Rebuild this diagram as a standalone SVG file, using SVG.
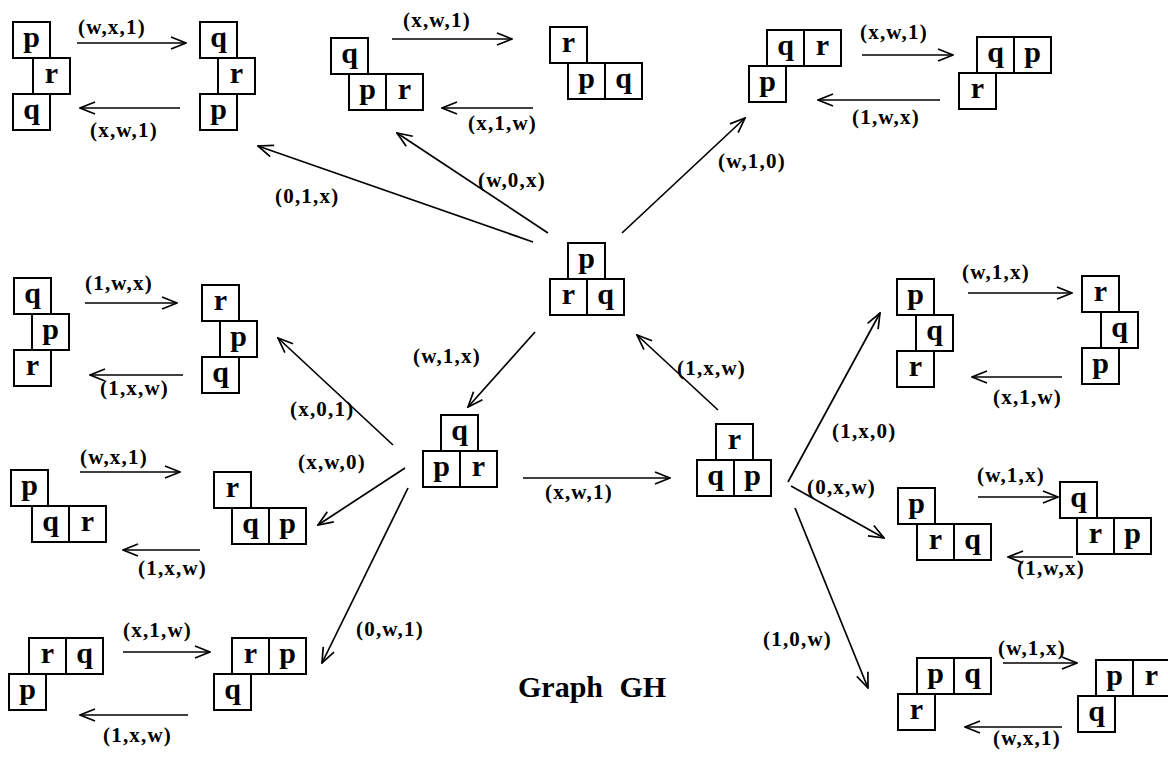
<svg xmlns="http://www.w3.org/2000/svg" width="1168" height="758" viewBox="0 0 1168 758">
  <defs>
    <style>
      .box { fill: #fff; stroke: #000; stroke-width: 2; }
      .ch { font-family: "Liberation Serif", "Times New Roman", serif; font-weight: bold; font-size: 30px; text-anchor: middle; fill: #000; }
      .lbl { font-family: "Liberation Serif", "Times New Roman", serif; font-weight: bold; font-size: 21px; letter-spacing: 1.2px; fill: #000; }
      .title { font-family: "Liberation Serif", "Times New Roman", serif; font-weight: bold; font-size: 30px; word-spacing: 9px; fill: #000; }
      .edge { fill: none; stroke: #000; stroke-width: 1.7; marker-end: url(#ah); }
    </style>
    <marker id="ah" viewBox="0 0 18 14" refX="17" refY="7" markerWidth="18" markerHeight="14" orient="auto" markerUnits="userSpaceOnUse">
      <path d="M2,1 L17,7 L2,13" fill="none" stroke="#000" stroke-width="1.7"/>
    </marker>
  </defs>
  <rect width="1168" height="758" fill="#fff"/>

  <!-- connectors -->
  <g id="connectors">
    <!-- top-left pair -->
    <line class="edge" x1="77" y1="43" x2="186" y2="43"/>
    <line class="edge" x1="180" y1="108" x2="80" y2="108"/>
    <!-- top-middle pair -->
    <line class="edge" x1="392" y1="39" x2="512" y2="39"/>
    <line class="edge" x1="533" y1="108" x2="442" y2="108"/>
    <!-- top-right pair -->
    <line class="edge" x1="862" y1="55" x2="953" y2="55"/>
    <line class="edge" x1="940" y1="100" x2="818" y2="100"/>
    <!-- left pairs -->
    <line class="edge" x1="85" y1="303" x2="177" y2="303"/>
    <line class="edge" x1="183" y1="375" x2="90" y2="375"/>
    <line class="edge" x1="80" y1="472" x2="180" y2="472"/>
    <line class="edge" x1="200" y1="550" x2="123" y2="550"/>
    <line class="edge" x1="123" y1="652" x2="210" y2="652"/>
    <line class="edge" x1="188" y1="715" x2="80" y2="715"/>
    <!-- right pairs -->
    <line class="edge" x1="968" y1="293" x2="1072" y2="293"/>
    <line class="edge" x1="1062" y1="377" x2="972" y2="377"/>
    <line class="edge" x1="978" y1="497" x2="1058" y2="497"/>
    <line class="edge" x1="1073" y1="557" x2="1008" y2="557"/>
    <line class="edge" x1="1003" y1="663" x2="1077" y2="663"/>
    <line class="edge" x1="1062" y1="727" x2="965" y2="727"/>
    <!-- from the centre block -->
    <line class="edge" x1="533" y1="242" x2="258" y2="146"/>
    <line class="edge" x1="548" y1="233" x2="397" y2="133"/>
    <line class="edge" x1="622" y1="233" x2="745" y2="118"/>
    <line class="edge" x1="535" y1="332" x2="468" y2="407"/>
    <line class="edge" x1="718" y1="410" x2="637" y2="335"/>
    <line class="edge" x1="523" y1="478" x2="670" y2="478"/>
    <!-- fan to the left -->
    <line class="edge" x1="393" y1="445" x2="278" y2="338"/>
    <line class="edge" x1="405" y1="468" x2="318" y2="525"/>
    <line class="edge" x1="408" y1="488" x2="322" y2="663"/>
    <!-- fan to the right -->
    <line class="edge" x1="788" y1="482" x2="880" y2="313"/>
    <line class="edge" x1="791" y1="486" x2="884" y2="538"/>
    <line class="edge" x1="795" y1="508" x2="868" y2="688"/>
  </g>

  <!-- edge labels -->
  <g id="labels">
    <text class="lbl" x="78" y="34">(w,x,1)</text>
    <text class="lbl" x="90" y="137">(x,w,1)</text>
    <text class="lbl" x="403" y="27">(x,w,1)</text>
    <text class="lbl" x="468" y="130">(x,1,w)</text>
    <text class="lbl" x="860" y="39">(x,w,1)</text>
    <text class="lbl" x="852" y="124">(1,w,x)</text>
    <text class="lbl" x="85" y="290">(1,w,x)</text>
    <text class="lbl" x="100" y="395">(1,x,w)</text>
    <text class="lbl" x="80" y="464">(w,x,1)</text>
    <text class="lbl" x="138" y="575">(1,x,w)</text>
    <text class="lbl" x="123" y="637">(x,1,w)</text>
    <text class="lbl" x="103" y="742">(1,x,w)</text>
    <text class="lbl" x="962" y="279">(w,1,x)</text>
    <text class="lbl" x="993" y="404">(x,1,w)</text>
    <text class="lbl" x="977" y="482">(w,1,x)</text>
    <text class="lbl" x="1017" y="575">(1,w,x)</text>
    <text class="lbl" x="998" y="655">(w,1,x)</text>
    <text class="lbl" x="993" y="745">(w,x,1)</text>
    <text class="lbl" x="275" y="203">(0,1,x)</text>
    <text class="lbl" x="478" y="187">(w,0,x)</text>
    <text class="lbl" x="718" y="168">(w,1,0)</text>
    <text class="lbl" x="413" y="363">(w,1,x)</text>
    <text class="lbl" x="677" y="375">(1,x,w)</text>
    <text class="lbl" x="545" y="499">(x,w,1)</text>
    <text class="lbl" x="290" y="416">(x,0,1)</text>
    <text class="lbl" x="298" y="469">(x,w,0)</text>
    <text class="lbl" x="356" y="636">(0,w,1)</text>
    <text class="lbl" x="832" y="438">(1,x,0)</text>
    <text class="lbl" x="807" y="494">(0,x,w)</text>
    <text class="lbl" x="763" y="646">(1,0,w)</text>
  </g>

  <!-- block configurations -->
  <g id="A1">
    <rect class="box" x="13" y="22" width="37" height="36"/><text class="ch" x="31.5" y="47">p</text>
    <rect class="box" x="33" y="58" width="37" height="36"/><text class="ch" x="51.5" y="83">r</text>
    <rect class="box" x="13" y="94" width="37" height="36"/><text class="ch" x="31.5" y="119">q</text>
  </g>
  <g id="A2">
    <rect class="box" x="200" y="22" width="37" height="36"/><text class="ch" x="218.5" y="47">q</text>
    <rect class="box" x="218" y="58" width="37" height="36"/><text class="ch" x="236.5" y="83">r</text>
    <rect class="box" x="200" y="94" width="37" height="36"/><text class="ch" x="218.5" y="119">p</text>
  </g>
  <g id="B1">
    <rect class="box" x="331" y="38" width="37" height="36"/><text class="ch" x="349.5" y="63">q</text>
    <rect class="box" x="349" y="74" width="37" height="36"/><text class="ch" x="367.5" y="99">p</text>
    <rect class="box" x="386" y="74" width="37" height="36"/><text class="ch" x="404.5" y="99">r</text>
  </g>
  <g id="B2">
    <rect class="box" x="550" y="27" width="37" height="36"/><text class="ch" x="568.5" y="52">r</text>
    <rect class="box" x="568" y="63" width="37" height="36"/><text class="ch" x="586.5" y="88">p</text>
    <rect class="box" x="605" y="63" width="37" height="36"/><text class="ch" x="623.5" y="88">q</text>
  </g>
  <g id="C1">
    <rect class="box" x="767" y="30" width="37" height="36"/><text class="ch" x="785.5" y="55">q</text>
    <rect class="box" x="804" y="30" width="37" height="36"/><text class="ch" x="822.5" y="55">r</text>
    <rect class="box" x="749" y="66" width="37" height="36"/><text class="ch" x="767.5" y="91">p</text>
  </g>
  <g id="C2">
    <rect class="box" x="977" y="37" width="37" height="36"/><text class="ch" x="995.5" y="62">q</text>
    <rect class="box" x="1014" y="37" width="37" height="36"/><text class="ch" x="1032.5" y="62">p</text>
    <rect class="box" x="959" y="73" width="37" height="36"/><text class="ch" x="977.5" y="98">r</text>
  </g>
  <g id="D">
    <rect class="box" x="568" y="243" width="37" height="36"/><text class="ch" x="586.5" y="268">p</text>
    <rect class="box" x="550" y="279" width="37" height="36"/><text class="ch" x="568.5" y="304">r</text>
    <rect class="box" x="587" y="279" width="37" height="36"/><text class="ch" x="605.5" y="304">q</text>
  </g>
  <g id="E">
    <rect class="box" x="441" y="415" width="37" height="36"/><text class="ch" x="459.5" y="440">q</text>
    <rect class="box" x="423" y="451" width="37" height="36"/><text class="ch" x="441.5" y="476">p</text>
    <rect class="box" x="460" y="451" width="37" height="36"/><text class="ch" x="478.5" y="476">r</text>
  </g>
  <g id="F">
    <rect class="box" x="716" y="424" width="37" height="36"/><text class="ch" x="734.5" y="449">r</text>
    <rect class="box" x="697" y="460" width="37" height="36"/><text class="ch" x="715.5" y="485">q</text>
    <rect class="box" x="734" y="460" width="37" height="36"/><text class="ch" x="752.5" y="485">p</text>
  </g>
  <g id="L1a">
    <rect class="box" x="14" y="278" width="37" height="36"/><text class="ch" x="32.5" y="303">q</text>
    <rect class="box" x="32" y="314" width="37" height="36"/><text class="ch" x="50.5" y="339">p</text>
    <rect class="box" x="14" y="350" width="37" height="36"/><text class="ch" x="32.5" y="375">r</text>
  </g>
  <g id="L1b">
    <rect class="box" x="202" y="285" width="37" height="36"/><text class="ch" x="220.5" y="310">r</text>
    <rect class="box" x="220" y="321" width="37" height="36"/><text class="ch" x="238.5" y="346">p</text>
    <rect class="box" x="202" y="357" width="37" height="36"/><text class="ch" x="220.5" y="382">q</text>
  </g>
  <g id="L2a">
    <rect class="box" x="11" y="470" width="37" height="36"/><text class="ch" x="29.5" y="495">p</text>
    <rect class="box" x="32" y="506" width="37" height="36"/><text class="ch" x="50.5" y="531">q</text>
    <rect class="box" x="69" y="506" width="37" height="36"/><text class="ch" x="87.5" y="531">r</text>
  </g>
  <g id="L2b">
    <rect class="box" x="214" y="472" width="37" height="36"/><text class="ch" x="232.5" y="497">r</text>
    <rect class="box" x="232" y="508" width="37" height="36"/><text class="ch" x="250.5" y="533">q</text>
    <rect class="box" x="269" y="508" width="37" height="36"/><text class="ch" x="287.5" y="533">p</text>
  </g>
  <g id="L3a">
    <rect class="box" x="29" y="638" width="37" height="36"/><text class="ch" x="47.5" y="663">r</text>
    <rect class="box" x="66" y="638" width="37" height="36"/><text class="ch" x="84.5" y="663">q</text>
    <rect class="box" x="9" y="674" width="37" height="36"/><text class="ch" x="27.5" y="699">p</text>
  </g>
  <g id="L3b">
    <rect class="box" x="232" y="638" width="37" height="36"/><text class="ch" x="250.5" y="663">r</text>
    <rect class="box" x="269" y="638" width="37" height="36"/><text class="ch" x="287.5" y="663">p</text>
    <rect class="box" x="214" y="674" width="37" height="36"/><text class="ch" x="232.5" y="699">q</text>
  </g>
  <g id="R1a">
    <rect class="box" x="897" y="279" width="37" height="36"/><text class="ch" x="915.5" y="304">p</text>
    <rect class="box" x="916" y="315" width="37" height="36"/><text class="ch" x="934.5" y="340">q</text>
    <rect class="box" x="897" y="351" width="37" height="36"/><text class="ch" x="915.5" y="376">r</text>
  </g>
  <g id="R1b">
    <rect class="box" x="1082" y="276" width="37" height="36"/><text class="ch" x="1100.5" y="301">r</text>
    <rect class="box" x="1101" y="312" width="37" height="36"/><text class="ch" x="1119.5" y="337">q</text>
    <rect class="box" x="1082" y="348" width="37" height="36"/><text class="ch" x="1100.5" y="373">p</text>
  </g>
  <g id="R2a">
    <rect class="box" x="898" y="488" width="37" height="36"/><text class="ch" x="916.5" y="513">p</text>
    <rect class="box" x="917" y="524" width="37" height="36"/><text class="ch" x="935.5" y="549">r</text>
    <rect class="box" x="954" y="524" width="37" height="36"/><text class="ch" x="972.5" y="549">q</text>
  </g>
  <g id="R2b">
    <rect class="box" x="1060" y="482" width="37" height="36"/><text class="ch" x="1078.5" y="507">q</text>
    <rect class="box" x="1077" y="518" width="37" height="36"/><text class="ch" x="1095.5" y="543">r</text>
    <rect class="box" x="1114" y="518" width="37" height="36"/><text class="ch" x="1132.5" y="543">p</text>
  </g>
  <g id="R3a">
    <rect class="box" x="917" y="658" width="37" height="36"/><text class="ch" x="935.5" y="683">p</text>
    <rect class="box" x="954" y="658" width="37" height="36"/><text class="ch" x="972.5" y="683">q</text>
    <rect class="box" x="898" y="694" width="37" height="36"/><text class="ch" x="916.5" y="719">r</text>
  </g>
  <g id="R3b">
    <rect class="box" x="1096" y="660" width="37" height="36"/><text class="ch" x="1114.5" y="685">p</text>
    <rect class="box" x="1133" y="660" width="37" height="36"/><text class="ch" x="1151.5" y="685">r</text>
    <rect class="box" x="1078" y="696" width="37" height="36"/><text class="ch" x="1096.5" y="721">q</text>
  </g>

  <text class="title" x="518" y="697">Graph GH</text>
</svg>
